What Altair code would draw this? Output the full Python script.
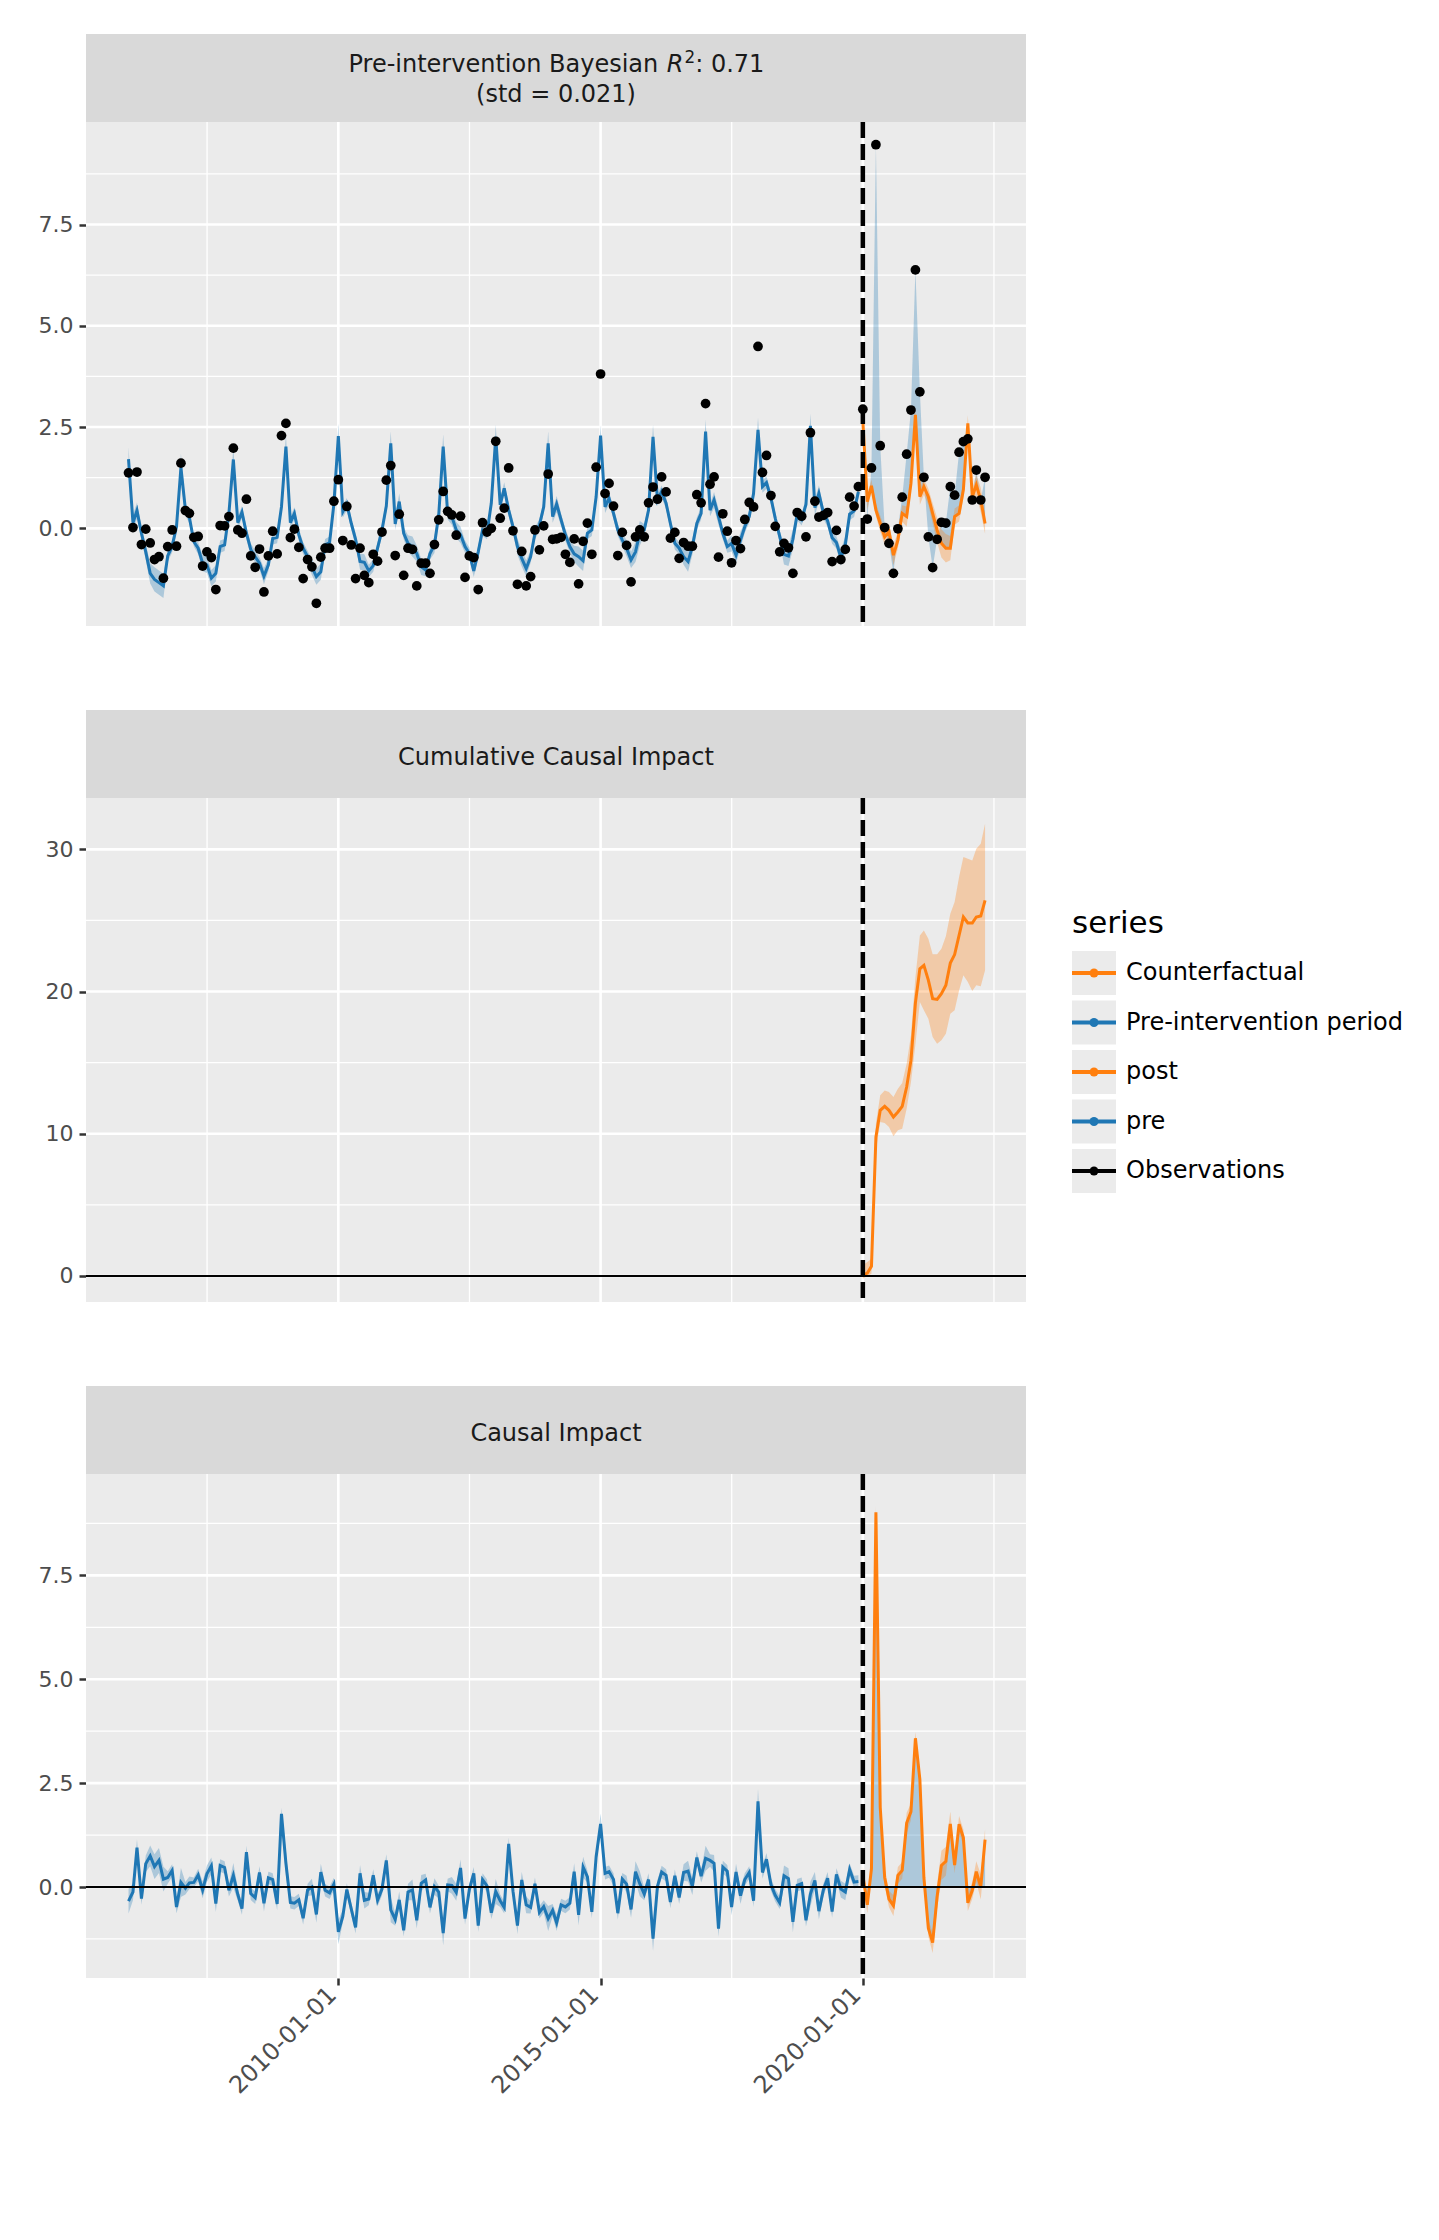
import altair as alt
import pandas as pd

FONT = "DejaVu Sans"
BLUE = "#1F77B4"
ORANGE = "#FF7F0E"
PANEL_BG = "#EBEBEB"
STRIP_BG = "#D9D9D9"

# ---------------- data (monthly, starting 2006-01) ----------------
observed = [
    1.37, 0.02, 1.39, -0.40, -0.02, -0.36, -0.77, -0.70, -1.23, -0.45, -0.04, -0.44,
    1.61, 0.44, 0.37, -0.22, -0.20, -0.93, -0.58, -0.72, -1.51, 0.07, 0.06, 0.29,
    1.98, -0.04, -0.12, 0.72, -0.68, -0.96, -0.51, -1.57, -0.68, -0.07, -0.63, 2.29,
    2.59, -0.23, -0.02, -0.47, -1.24, -0.77, -0.95, -1.85, -0.71, -0.49, -0.49, 0.67,
    1.20, -0.30, 0.54, -0.41, -1.24, -0.49, -1.16, -1.34, -0.64, -0.81, -0.09, 1.19,
    1.55, -0.67, 0.35, -1.16, -0.49, -0.52, -1.42, -0.86, -0.86, -1.11, -0.40, 0.21,
    0.91, 0.42, 0.33, -0.17, 0.30, -1.21, -0.68, -0.72, -1.51, 0.14, -0.09, 0.00,
    2.15, 0.25, 0.50, 1.49, -0.06, -1.38, -0.57, -1.42, -1.19, -0.04, -0.53, 0.06,
    1.34, -0.27, -0.26, -0.22, -0.64, -0.84, -0.26, -1.37, -0.32, 0.13, -0.64, 1.51,
    3.81, 0.86, 1.11, 0.55, -0.67, -0.10, -0.42, -1.32, -0.21, -0.04, -0.21, 0.63,
    1.02, 0.72, 1.27, 0.90, -0.24, -0.10, -0.74, -0.35, -0.44, -0.44, 0.83, 0.63,
    3.08, 1.09, 1.27, -0.71, 0.36, -0.07, -0.85, -0.30, -0.50, 0.22, 0.64, 0.53,
    4.49, 1.38, 1.80, 0.81, 0.05, -0.58, -0.37, -0.48, -1.11, 0.39, 0.30, -0.21,
    2.36, 0.67, 0.28, 0.32, 0.39, -0.82, -0.05, -0.77, -0.52, 0.77, 0.55, 1.03,
    2.94, 0.23, 1.49, 9.47, 2.04, 0.02, -0.37, -1.11, -0.01, 0.77, 1.83, 2.92,
    6.38, 3.37, 1.26, -0.21, -0.97, -0.27, 0.15, 0.13, 1.03, 0.82, 1.88, 2.14,
    2.21, 0.70, 1.44, 0.70, 1.26,
]

predicted_pre = [
    1.71, 0.14, 0.44, -0.12, -0.58, -1.11, -1.26, -1.34, -1.42, -0.68, -0.44, 0.04,
    1.50, 0.47, 0.27, -0.33, -0.49, -0.86, -0.90, -1.23, -1.11, -0.45, -0.41, 0.37,
    1.70, 0.14, 0.40, -0.12, -0.52, -0.70, -0.86, -1.18, -0.90, -0.25, -0.22, 0.53,
    2.02, 0.14, 0.37, -0.16, -0.49, -0.70, -0.95, -1.19, -1.07, -0.41, -0.35, 0.60,
    2.28, 0.41, 0.60, 0.12, -0.27, -0.82, -0.84, -1.05, -0.92, -0.49, -0.04, 0.55,
    2.10, 0.11, 0.66, -0.12, -0.37, -0.45, -0.62, -0.95, -1.03, -0.62, -0.41, 0.33,
    2.02, 0.37, 0.29, -0.04, -0.16, -0.45, -0.62, -1.05, -0.58, -0.04, -0.12, 0.62,
    2.26, 0.58, 0.99, 0.45, 0.04, -0.45, -0.74, -0.99, -0.70, -0.12, 0.08, 0.53,
    2.10, 0.29, 0.60, 0.21, -0.16, -0.45, -0.63, -0.70, -0.80, -0.12, -0.04, 0.78,
    2.29, 0.53, 0.74, 0.37, -0.04, -0.29, -0.49, -0.78, -0.58, -0.12, -0.04, 0.45,
    2.26, 0.70, 0.91, 0.62, 0.12, -0.37, -0.49, -0.70, -0.82, -0.45, 0.12, 0.37,
    2.39, 0.45, 0.70, 0.29, -0.12, -0.45, -0.37, -0.66, -0.29, 0.04, 0.29, 0.86,
    2.43, 1.03, 1.13, 0.75, 0.25, -0.20, -0.64, -0.68, -0.27, 0.35, 0.22, 0.59,
    2.53, 0.51, 0.86, 0.39, 0.18, -0.23, -0.35, -0.72, -0.40, 0.35, 0.43, 0.90,
]

band_half_pre = [
    0.30, 0.20, 0.20, 0.15, 0.20, 0.25, 0.30, 0.30, 0.30, 0.15, 0.15, 0.15,
    0.35, 0.15, 0.15, 0.12, 0.15, 0.20, 0.20, 0.20, 0.20, 0.15, 0.15, 0.15,
    0.30, 0.15, 0.15, 0.15, 0.15, 0.15, 0.15, 0.20, 0.15, 0.15, 0.15, 0.15,
    0.30, 0.15, 0.15, 0.15, 0.15, 0.15, 0.20, 0.20, 0.20, 0.15, 0.15, 0.15,
    0.30, 0.15, 0.15, 0.15, 0.15, 0.20, 0.20, 0.15, 0.15, 0.15, 0.15, 0.15,
    0.30, 0.15, 0.20, 0.15, 0.20, 0.25, 0.20, 0.20, 0.15, 0.15, 0.20, 0.15,
    0.30, 0.15, 0.20, 0.20, 0.20, 0.15, 0.15, 0.15, 0.15, 0.15, 0.15, 0.15,
    0.30, 0.15, 0.15, 0.15, 0.15, 0.20, 0.20, 0.20, 0.15, 0.15, 0.15, 0.15,
    0.30, 0.15, 0.20, 0.15, 0.15, 0.15, 0.20, 0.25, 0.25, 0.15, 0.15, 0.15,
    0.25, 0.15, 0.15, 0.15, 0.15, 0.15, 0.20, 0.20, 0.25, 0.30, 0.15, 0.15,
    0.30, 0.15, 0.15, 0.15, 0.15, 0.15, 0.15, 0.20, 0.25, 0.20, 0.15, 0.15,
    0.30, 0.15, 0.20, 0.20, 0.15, 0.15, 0.20, 0.20, 0.20, 0.15, 0.15, 0.15,
    0.30, 0.15, 0.15, 0.15, 0.15, 0.15, 0.25, 0.25, 0.25, 0.15, 0.15, 0.15,
    0.30, 0.20, 0.20, 0.15, 0.15, 0.15, 0.15, 0.20, 0.20, 0.15, 0.15, 0.15,
]

counterfactual_post = [
    2.65, 0.66, 1.05, 0.45, 0.12, -0.21, -0.08, -0.66, -0.29, 0.37, 0.29, 1.11,
    2.80, 0.78, 1.03, 0.78, 0.37, -0.04, -0.37, -0.49, -0.49, 0.29, 0.37, 0.95,
    2.59, 0.78, 1.07, 0.70, 0.12,
]
band_half_post = [
    0.20, 0.20, 0.15, 0.15, 0.20, 0.20, 0.20, 0.25, 0.20, 0.20, 0.25, 0.20,
    0.15, 0.20, 0.20, 0.20, 0.25, 0.30, 0.35, 0.35, 0.30, 0.20, 0.20, 0.20,
    0.20, 0.20, 0.25, 0.30, 0.25,
]
cum_impact_post = [
    0.05, 0.20, 0.68, 9.77, 11.65, 11.93, 11.65, 11.18, 11.53, 11.93, 13.29, 15.16,
    19.20, 21.60, 21.84, 20.80, 19.50, 19.45, 19.85, 20.44, 22.00, 22.60, 23.95, 25.24,
    24.82, 24.82, 25.24, 25.31, 26.41,
]
cum_lower_post = [
    -0.19, 0.00, 0.16, 8.84, 10.83, 10.76, 10.48, 9.82, 10.24, 10.36, 11.76, 13.64,
    16.30, 19.26, 18.68, 18.09, 16.80, 16.33, 16.57, 17.04, 18.44, 18.68, 20.08, 21.14,
    20.67, 20.04, 20.44, 20.37, 21.49,
]
cum_upper_post = [
    0.75, 0.98, 1.22, 10.71, 12.70, 13.05, 12.94, 12.58, 13.17, 13.57, 14.93, 16.92,
    21.00, 23.95, 24.30, 23.72, 22.62, 22.62, 23.01, 23.88, 25.47, 26.30, 28.05, 29.46,
    29.34, 29.22, 30.04, 30.40, 31.80,
]

x_tick_years = [2010, 2015, 2020]
x_grid_major = ["2010-01-01", "2015-01-01", "2020-01-01"]
x_grid_minor = ["2007-07-02", "2012-07-02", "2017-07-02", "2022-07-02"]
intervention_date = ["2020-01-01"]

legend_title = "series"
legend_names = ["Counterfactual", "Pre-intervention period", "post", "pre", "Observations"]
legend_colors = [ORANGE, BLUE, ORANGE, BLUE, "#000000"]

# strip 1 title pieces: "Pre-intervention Bayesian " + italic R + superscript 2 + ": 0.71"
strip1_parts = ["Pre-intervention Bayesian", "R", "2", ": 0.71"]
strip1_line2 = "(std = 0.021)"
strip2_title = "Cumulative Causal Impact"
strip3_title = "Causal Impact"

# ---------------- frames ----------------
N_PRE = len(predicted_pre)
dates = pd.date_range("2006-01-01", periods=len(observed), freq="MS").strftime("%Y-%m-%d").tolist()

pre_df = pd.DataFrame({"date": dates[:N_PRE], "obs": observed[:N_PRE],
                       "pred": predicted_pre, "half": band_half_pre})
pre_df["lo"] = pre_df["pred"] - pre_df["half"]
pre_df["hi"] = pre_df["pred"] + pre_df["half"]
pre_df["imp"] = pre_df["obs"] - pre_df["pred"]
pre_df["imp_lo"] = pre_df["obs"] - pre_df["hi"]
pre_df["imp_hi"] = pre_df["obs"] - pre_df["lo"]

post_df = pd.DataFrame({"date": dates[N_PRE:], "obs": observed[N_PRE:],
                        "cf": counterfactual_post, "half": band_half_post,
                        "cum": cum_impact_post, "cum_lo": cum_lower_post,
                        "cum_hi": cum_upper_post})
post_df["cf_lo"] = post_df["cf"] - post_df["half"]
post_df["cf_hi"] = post_df["cf"] + post_df["half"]
post_df["imp"] = post_df["obs"] - post_df["cf"]
post_df["imp_lo"] = post_df["imp"] - post_df["half"]
post_df["imp_hi"] = post_df["imp"] + post_df["half"]
post_df["zero"] = 0.0

obs_df = pd.DataFrame({"date": dates, "obs": observed})
one = pd.DataFrame({"k": [0]})

W, H, STRIP_H = 940, 504, 88

X_DOMAIN = [alt.DateTime(year=2005, month=3, date=11, utc=True),
            alt.DateTime(year=2023, month=2, date=10, utc=True)]
X_TICKS = [alt.DateTime(year=y, month=1, date=1, utc=True) for y in x_tick_years]


def make_x(bottom):
    scale = alt.Scale(type="utc", domain=X_DOMAIN)
    if bottom:
        axis = alt.Axis(values=X_TICKS, labelExpr="utcFormat(datum.value, '%Y-%m-%d')",
                        labelAngle=315, labelAlign="right", labelBaseline="middle",
                        labelFontSize=24, labelColor="#4D4D4D", labelFont=FONT,
                        labelPadding=6, labelOffset=-6, labelOverlap=False, labelFlush=False,
                        labelBound=False, labelLimit=400, tickColor="#333333", tickSize=7,
                        tickWidth=2.5, domain=False, grid=False, title=None)
        return alt.X("date:T", scale=scale, axis=axis)
    return alt.X("date:T", scale=scale, axis=None)


def make_y(field, dom, ticks, fmt):
    return alt.Y(f"{field}:Q", scale=alt.Scale(domain=dom, nice=False, zero=False),
                 axis=alt.Axis(values=ticks, format=fmt, title=None, grid=False,
                               domain=False, labelFontSize=22, labelColor="#4D4D4D",
                               labelFont=FONT, labelPadding=6, tickColor="#333333",
                               tickSize=7, tickWidth=2.5, minExtent=51, maxExtent=51))


def base_layers(dom, ymaj, ymin, fmt, bottom):
    X = make_x(bottom)
    bg = alt.Chart(one).mark_rect(color=PANEL_BG).encode(
        x=alt.value(0), x2=alt.value(W), y=alt.value(0), y2=alt.value(H))
    vmin = alt.Chart(pd.DataFrame({"date": x_grid_minor})).mark_rule(
        color="white", strokeWidth=1.3).encode(x=X)
    vmaj = alt.Chart(pd.DataFrame({"date": x_grid_major})).mark_rule(
        color="white", strokeWidth=2.6).encode(x=X)
    hmin = alt.Chart(pd.DataFrame({"v": ymin})).mark_rule(
        color="white", strokeWidth=1.3).encode(y=make_y("v", dom, ymaj, fmt))
    hmaj = alt.Chart(pd.DataFrame({"v": ymaj})).mark_rule(
        color="white", strokeWidth=2.6).encode(y=make_y("v", dom, ymaj, fmt))
    return [bg, vmin, vmaj, hmin, hmaj]


def strip_bg():
    return alt.Chart(one).mark_rect(color=STRIP_BG).encode(
        x=alt.value(0), x2=alt.value(W), y=alt.value(-STRIP_H), y2=alt.value(0))


def strip_text(text, x, y, align="center", size=24, style="normal"):
    return alt.Chart(one).mark_text(font=FONT, fontSize=size, color="#1A1A1A",
                                    align=align, baseline="alphabetic",
                                    fontStyle=style).encode(
        x=alt.value(x), y=alt.value(y), text=alt.value(text))


def dashed(bottom):
    return alt.Chart(pd.DataFrame({"date": intervention_date})).mark_rule(
        color="black", strokeWidth=4.5, strokeDash=[16, 6]).encode(x=make_x(bottom))


# strip-1 layout (DejaVu Sans advances at 24 px)
S1_START = W / 2 - 415 / 2
strip1 = [
    strip_bg(),
    strip_text(strip1_parts[0], S1_START, -50.4, align="left"),
    strip_text(strip1_parts[1], S1_START + 318.3, -50.4, align="left", style="italic"),
    strip_text(strip1_parts[2], S1_START + 336.0, -58.7, align="left", size=16.8),
    strip_text(strip1_parts[3], S1_START + 346.7, -50.4, align="left"),
    strip_text(strip1_line2, W / 2, -20.4),
]

# ---------------- panel 1 ----------------
D1 = [-2.41, 10.03]
T1 = [0, 2.5, 5, 7.5]
M1 = [-1.25, 1.25, 3.75, 6.25, 8.75]
F1 = ".1f"
X1 = make_x(False)
p1_layers = base_layers(D1, T1, M1, F1, False) + [
    alt.Chart(pre_df).mark_area(color=BLUE, opacity=0.3).encode(
        x=X1, y=make_y("lo", D1, T1, F1), y2="hi:Q"),
    alt.Chart(post_df).mark_area(color=BLUE, opacity=0.3).encode(
        x=X1, y=make_y("cf", D1, T1, F1), y2="obs:Q"),
    alt.Chart(post_df).mark_area(color=ORANGE, opacity=0.3).encode(
        x=X1, y=make_y("cf_lo", D1, T1, F1), y2="cf_hi:Q"),
    alt.Chart(pre_df).mark_line(color=BLUE, strokeWidth=3).encode(
        x=X1, y=make_y("pred", D1, T1, F1)),
    alt.Chart(post_df).mark_line(color=ORANGE, strokeWidth=3).encode(
        x=X1, y=make_y("cf", D1, T1, F1)),
    dashed(False),
    alt.Chart(obs_df).mark_circle(color="black", size=95, opacity=1).encode(
        x=X1, y=make_y("obs", D1, T1, F1)),
] + strip1
p1 = alt.layer(*p1_layers).properties(width=W, height=H)

# ---------------- panel 2 (with legend) ----------------
D2 = [-1.83, 33.61]
T2 = [0, 10, 20, 30]
M2 = [5, 15, 25]
F2 = "d"
X2 = make_x(False)
p2_layers = base_layers(D2, T2, M2, F2, False) + [
    alt.Chart(post_df).mark_area(color=ORANGE, opacity=0.3).encode(
        x=X2, y=make_y("cum_lo", D2, T2, F2), y2="cum_hi:Q"),
    alt.Chart(post_df).mark_line(color=ORANGE, strokeWidth=3).encode(
        x=X2, y=make_y("cum", D2, T2, F2)),
    alt.Chart(pd.DataFrame({"v": [0]})).mark_rule(color="black", strokeWidth=2.2).encode(
        y=make_y("v", D2, T2, F2)),
    dashed(False),
    strip_bg(),
    strip_text(strip2_title, W / 2, -33.4),
]
p2_data = alt.layer(*p2_layers)

LEG_X = 986          # left edge of legend keys, relative to the plot area
leg_df = pd.DataFrame({"series": legend_names, "colour": legend_colors})
LY = alt.Y("series:N", sort=legend_names, axis=None,
           scale=alt.Scale(type="point", domain=legend_names, padding=0.5,
                           range=[150.25, 397.75]))
LC = alt.Color("colour:N", scale=None, legend=None)
lb = alt.Chart(leg_df)
legend = alt.layer(
    alt.Chart(one).mark_text(align="left", baseline="alphabetic", fontSize=31, font=FONT,
                             color="#000000").encode(
        x=alt.value(LEG_X), y=alt.value(135), text=alt.value(legend_title)),
    lb.mark_square(size=44 * 44, color=PANEL_BG, opacity=1, filled=True, strokeWidth=0).encode(
        x=alt.value(LEG_X + 22), y=LY),
    lb.mark_rule(strokeWidth=4).encode(x=alt.value(LEG_X), x2=alt.value(LEG_X + 44), y=LY, color=LC),
    lb.mark_circle(size=80, opacity=1).encode(x=alt.value(LEG_X + 22), y=LY, color=LC),
    lb.mark_text(align="left", baseline="middle", fontSize=24, font=FONT, color="#000000").encode(
        x=alt.value(LEG_X + 54), y=LY, text="series:N"),
)
p2 = alt.layer(p2_data, legend).resolve_scale(y="independent").properties(width=W, height=H)

# ---------------- panel 3 ----------------
D3 = [-2.19, 9.94]
T3 = [0, 2.5, 5, 7.5]
M3 = [-1.25, 1.25, 3.75, 6.25, 8.75]
F3 = ".1f"
X3 = make_x(True)
p3_layers = base_layers(D3, T3, M3, F3, True) + [
    alt.Chart(pre_df).mark_area(color=BLUE, opacity=0.3).encode(
        x=X3, y=make_y("imp_lo", D3, T3, F3), y2="imp_hi:Q"),
    alt.Chart(post_df).mark_area(color=BLUE, opacity=0.3).encode(
        x=X3, y=make_y("zero", D3, T3, F3), y2="imp:Q"),
    alt.Chart(post_df).mark_area(color=ORANGE, opacity=0.3).encode(
        x=X3, y=make_y("imp_lo", D3, T3, F3), y2="imp_hi:Q"),
    alt.Chart(pre_df).mark_line(color=BLUE, strokeWidth=3).encode(
        x=X3, y=make_y("imp", D3, T3, F3)),
    alt.Chart(post_df).mark_line(color=ORANGE, strokeWidth=3).encode(
        x=X3, y=make_y("imp", D3, T3, F3)),
    alt.Chart(pd.DataFrame({"v": [0]})).mark_rule(color="black", strokeWidth=2.2).encode(
        y=make_y("v", D3, T3, F3)),
    dashed(True),
    strip_bg(),
    strip_text(strip3_title, W / 2, -33.4),
]
p3 = alt.layer(*p3_layers).properties(width=W, height=H)

chart = alt.vconcat(p1, p2, p3, spacing=81).properties(
    padding={"left": 35, "top": 34, "right": 10, "bottom": 10}
).configure_view(strokeWidth=0)

chart.save("out.html", embed_options={"renderer": "svg", "actions": False})
